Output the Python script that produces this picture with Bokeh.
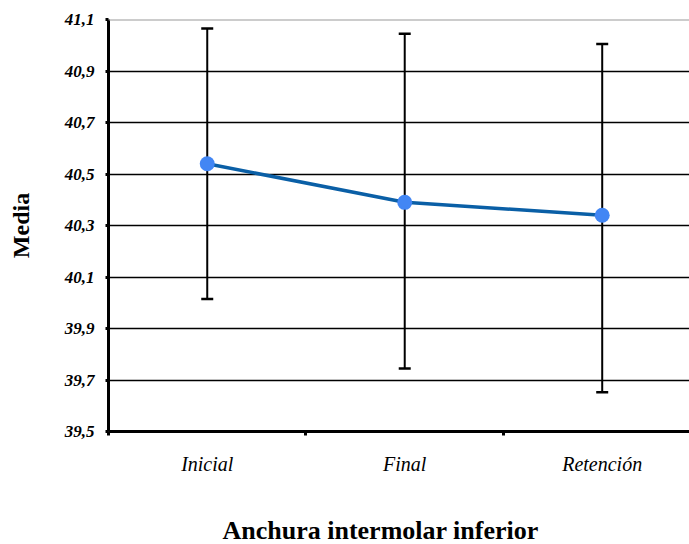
from bokeh.embed import file_html
from bokeh.models import (ColumnDataSource, CustomJSTickFormatter, FixedTicker,
                          LinearAxis, Range1d, Span, TeeHead, Title, Whisker)
from bokeh.plotting import figure
from bokeh.resources import INLINE

# Data
categories = ["Inicial", "Final", "Retención"]
means = [40.54, 40.39, 40.34]
upper = [41.065, 41.045, 41.005]
lower = [40.015, 39.745, 39.652]
y_ticks = [39.5, 39.7, 39.9, 40.1, 40.3, 40.5, 40.7, 40.9, 41.1]
x_title = "Anchura intermolar inferior"
y_title = "Media"

SERIF = "Liberation Serif"

xs = [i + 0.5 for i in range(len(categories))]
src = ColumnDataSource(dict(x=xs, mean=means, upper=upper, lower=lower))

p = figure(width=689, height=544,
           x_range=Range1d(0, 2.942), y_range=Range1d(y_ticks[0], y_ticks[-1]),
           output_backend="svg", toolbar_location=None,
           min_border_left=108, min_border_right=0,
           min_border_top=19, min_border_bottom=112)
p.outline_line_color = None
p.background_fill_color = "white"
p.border_fill_color = "white"

# y axis
p.yaxis.ticker = FixedTicker(ticks=y_ticks)
p.yaxis.formatter = CustomJSTickFormatter(code="return tick.toFixed(1).replace('.', ',');")
p.yaxis.axis_line_width = 3
p.yaxis.axis_line_color = "black"
p.yaxis.major_tick_in = 0
p.yaxis.major_tick_out = 3
p.yaxis.major_tick_line_width = 3
p.yaxis.minor_tick_line_color = None
p.yaxis.major_label_standoff = 11
p.yaxis.major_label_text_font = SERIF
p.yaxis.major_label_text_font_style = "bold italic"
p.yaxis.major_label_text_font_size = "17px"
p.yaxis.major_label_text_color = "black"
p.yaxis.axis_label = y_title
p.yaxis.axis_label_standoff = 28
p.yaxis.axis_label_text_font = SERIF
p.yaxis.axis_label_text_font_style = "bold"
p.yaxis.axis_label_text_font_size = "24px"
p.yaxis.axis_label_text_color = "black"

# x axis: category names centred, small ticks on the boundaries
p.xaxis.ticker = FixedTicker(ticks=xs, minor_ticks=[0, 1, 2])
p.xaxis.formatter = CustomJSTickFormatter(args=dict(names=categories),
                                          code="return names[Math.floor(tick)];")
p.xaxis.axis_line_width = 3
p.xaxis.axis_line_color = "black"
p.xaxis.major_tick_line_color = None
p.xaxis.major_tick_in = 0
p.xaxis.major_tick_out = 0
p.xaxis.minor_tick_in = 0
p.xaxis.minor_tick_out = 4
p.xaxis.minor_tick_line_width = 3
p.xaxis.minor_tick_line_color = "black"
p.xaxis.major_label_standoff = 17
p.xaxis.major_label_text_font = SERIF
p.xaxis.major_label_text_font_style = "italic"
p.xaxis.major_label_text_font_size = "20px"
p.xaxis.major_label_text_color = "black"

# unlabelled axis used only as vertical spacing between the labels and the x title
spacer = LinearAxis(ticker=FixedTicker(ticks=[1.0]),
                    formatter=CustomJSTickFormatter(code="return '';"),
                    axis_line_color=None,
                    major_tick_in=0, major_tick_out=36, major_tick_line_color=None,
                    minor_tick_in=0, minor_tick_out=0, minor_tick_line_color=None,
                    major_label_standoff=0, major_label_text_font_size="1px")
p.add_layout(spacer, "below")

# grid
p.xgrid.grid_line_color = None
p.ygrid.ticker = FixedTicker(ticks=y_ticks[1:-1])
p.ygrid.grid_line_color = "black"
p.ygrid.grid_line_width = 1.3
p.add_layout(Span(location=y_ticks[-1], dimension="width",
                  line_color="#9a9a9a", line_width=2))

# error bars
whisker = Whisker(base="x", upper="upper", lower="lower", source=src,
                  line_color="black", line_width=2,
                  upper_head=TeeHead(size=12, line_width=2.5, line_color="black"),
                  lower_head=TeeHead(size=12, line_width=2.5, line_color="black"))
p.add_layout(whisker)

# means
p.line("x", "mean", source=src, line_color="#0A5FA6", line_width=3.5)
p.scatter("x", "mean", source=src, size=15, fill_color="#4286F4", line_color=None)

# x title below the axis, left-aligned with an offset from the frame edge
p.add_layout(Title(text=x_title, align="left", offset=114, standoff=0,
                   text_font=SERIF, text_font_style="bold", text_font_size="26px",
                   text_color="black"), "below")

open("out.html", "w").write(file_html(p, INLINE))
